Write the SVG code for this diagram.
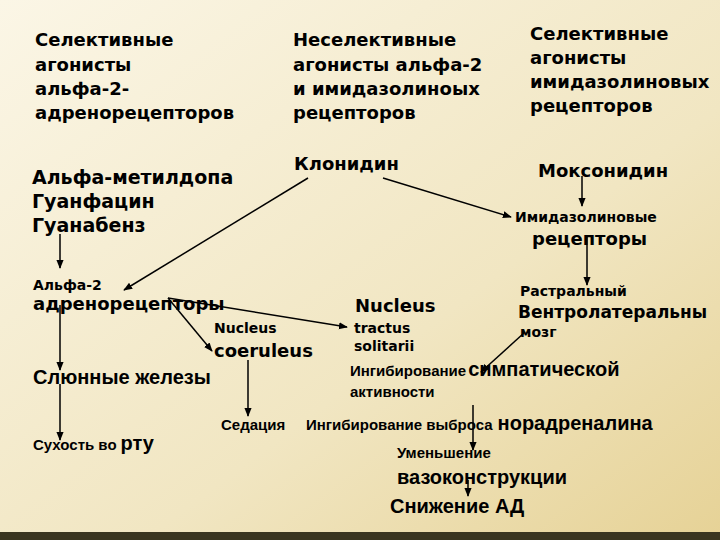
<svg xmlns="http://www.w3.org/2000/svg" width="720" height="540" viewBox="0 0 720 540">
<defs>
<linearGradient id="bg" x1="0" y1="0" x2="1" y2="1"><stop offset="0" stop-color="#fbf6e6"/><stop offset="0.6" stop-color="#f1e6c2"/><stop offset="1" stop-color="#e6d296"/></linearGradient>
<marker id="a" viewBox="0 0 10 10" refX="9" refY="5" markerWidth="6" markerHeight="6" orient="auto"><path d="M0,1 L10,5 L0,9 z" fill="#000"/></marker>
<style>
text{font-family:"DejaVu Sans","Liberation Sans",sans-serif;font-weight:bold;fill:#000}
.h{font-size:18px}.m{font-size:18px}.s{font-size:14px}.c{font-family:"Liberation Sans",sans-serif;font-size:15px}
.c2{font-family:"Liberation Sans",sans-serif;font-size:20px}
line{stroke:#000;stroke-width:1.5;marker-end:url(#a)}
</style>
</defs>
<rect width="720" height="540" fill="url(#bg)"/>
<rect x="0" y="532" width="720" height="8" fill="#3a3520"/>
<g id="h1"><text class="h" x="35" y="46">Селективные</text><text class="h" x="35" y="71">агонисты</text><text class="h" x="35" y="95">альфа-2-</text><text class="h" x="35" y="119">адренорецепторов</text></g>
<g id="h2"><text class="h" x="293" y="46">Неселективные</text><text class="h" x="293" y="71">агонисты альфа-2</text><text class="h" x="293" y="95">и имидазолиноых</text><text class="h" x="293" y="119">рецепторов</text></g>
<g id="h3"><text class="h" x="530" y="40">Селективные</text><text class="h" x="530" y="64">агонисты</text><text class="h" x="530" y="88">имидазолиновых</text><text class="h" x="530" y="112">рецепторов</text></g>
<g id="drugs"><text class="m" x="32" y="184" style="font-size:19px">Альфа-метилдопа</text><text class="m" x="32" y="208" style="font-size:19px">Гуанфацин</text><text class="m" x="32" y="232" style="font-size:19px">Гуанабенз</text></g>
<g id="clon"><text class="m" x="294" y="170">Клонидин</text></g>
<g id="mox"><text class="m" x="538" y="177">Моксонидин</text></g>
<g id="imid"><text class="s" x="515" y="222">Имидазолиновые</text><text class="m" x="532" y="245">рецепторы</text></g>
<g id="a2"><text class="s" x="33" y="290">Альфа-2</text><text class="m" x="33" y="310">адренорецепторы</text></g>
<g id="rvl"><text class="s" x="520" y="296">Растральный</text><text class="m" x="518" y="318" style="font-size:17px">Вентролатеральны</text><text class="s" x="520" y="337">мозг</text></g>
<g id="nts"><text class="m" x="355" y="312">Nucleus</text><text class="s" x="354" y="333">tractus</text><text class="s" x="354" y="351">solitarii</text></g>
<g id="nc"><text class="s" x="214" y="333">Nucleus</text><text class="m" x="214" y="357">coeruleus</text></g>
<g id="saliv"><text class="c2" x="33" y="384">Слюнные железы</text></g>
<g id="symp"><text class="c" x="350" y="376">Ингибирование<tspan dx="2" style="font-size:20px">симпатической</tspan></text><text class="c" x="350" y="397">активности</text></g>
<g id="sed"><text class="c" x="221" y="430">Седация</text></g>
<g id="nor"><text class="c" x="306" y="430">Ингибирование выброса<tspan dx="5" style="font-size:20px">норадреналина</tspan></text></g>
<g id="dry"><text class="c" x="33" y="450">Сухость во<tspan dx="4" style="font-size:20px">рту</tspan></text></g>
<g id="vaso"><text class="c" x="397" y="458">Уменьшение</text><text class="c2" x="397" y="484">вазоконструкции</text></g>
<g id="bp"><text class="c2" x="390" y="513">Снижение АД</text></g>
<g id="connectors">
<line x1="60" y1="234" x2="60" y2="268"/>
<line x1="308" y1="178" x2="124" y2="290"/>
<line x1="383" y1="178" x2="511" y2="217"/>
<line x1="582" y1="176" x2="582" y2="206"/>
<line x1="587" y1="237" x2="587" y2="285"/>
<line x1="168" y1="298" x2="347" y2="327"/>
<line x1="168" y1="298" x2="212" y2="351"/>
<line x1="60" y1="305" x2="60" y2="370"/>
<line x1="60" y1="384" x2="60" y2="440"/>
<line x1="248" y1="360" x2="248" y2="416"/>
<line x1="524" y1="333" x2="481" y2="372"/>
<line x1="473" y1="405" x2="473" y2="450"/>
<line x1="468" y1="480" x2="468" y2="496"/>
</g>
</svg>
